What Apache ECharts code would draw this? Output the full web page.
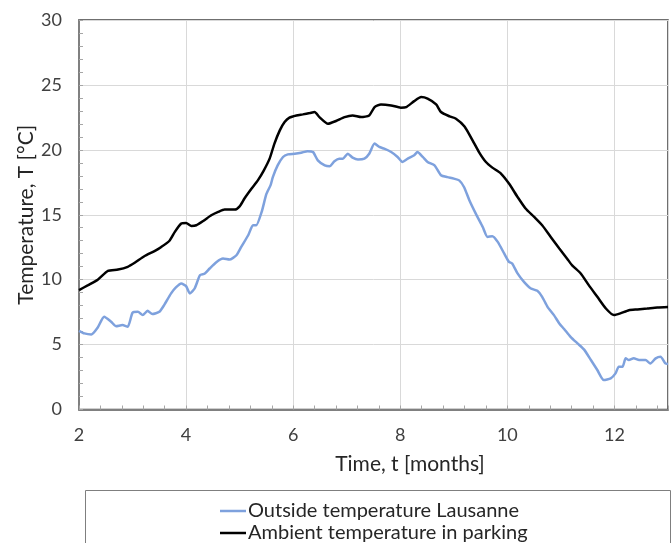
<!DOCTYPE html>
<html>
<head>
<meta charset="utf-8">
<script src="https://cdn.jsdelivr.net/npm/echarts@6/dist/echarts.min.js"></script>
<style>html,body{margin:0;padding:0;background:#fff;}#c{width:672px;height:543px;}</style>
</head>
<body>
<div id="c"></div>
<script>
// ---- data ----
var seriesNames = ['Outside temperature Lausanne', 'Ambient temperature in parking'];
var xTickLabels = ['2', '4', '6', '8', '10', '12'];
var yTickLabels = ['0', '5', '10', '15', '20', '25', '30'];

var blueX = [2.00,2.10,2.23,2.35,2.47,2.60,2.69,2.81,2.91,3.00,3.10,3.19,3.28,3.37,3.50,3.59,3.72,3.81,3.91,4.00,4.07,4.16,4.26,4.35,4.44,4.57,4.69,4.81,4.94,5.03,5.16,5.25,5.31,5.41,5.50,5.58,5.62,5.71,5.81,5.90,6.03,6.15,6.27,6.37,6.46,6.59,6.68,6.77,6.86,6.93,7.02,7.11,7.21,7.33,7.42,7.52,7.61,7.70,7.83,7.95,8.04,8.14,8.26,8.32,8.42,8.51,8.64,8.76,8.88,9.00,9.10,9.19,9.29,9.41,9.54,9.63,9.72,9.82,9.94,10.03,10.09,10.19,10.31,10.44,10.56,10.65,10.75,10.87,10.97,11.06,11.18,11.31,11.43,11.56,11.68,11.80,11.93,12.02,12.08,12.15,12.21,12.27,12.36,12.46,12.58,12.67,12.77,12.86,12.95,13.00];
var blueY = [6.06,5.86,5.78,6.32,7.14,6.76,6.42,6.50,6.37,7.45,7.52,7.27,7.60,7.35,7.52,8.04,8.94,9.40,9.70,9.50,8.94,9.32,10.35,10.47,10.86,11.37,11.63,11.55,11.88,12.52,13.42,14.19,14.19,15.20,16.60,17.30,17.90,18.80,19.45,19.65,19.70,19.78,19.90,19.83,19.19,18.80,18.73,19.12,19.32,19.32,19.70,19.40,19.25,19.32,19.70,20.48,20.22,20.09,19.83,19.45,19.06,19.32,19.58,19.83,19.45,19.06,18.80,18.04,17.90,17.78,17.65,17.14,16.12,15.09,14.06,13.29,13.35,12.91,12.02,11.37,11.24,10.48,9.83,9.32,9.14,8.68,7.91,7.27,6.63,6.20,5.60,5.09,4.63,3.81,3.04,2.27,2.40,2.78,3.29,3.29,3.94,3.81,3.94,3.81,3.81,3.55,3.94,4.06,3.55,3.50];

var blackX = [2.00,2.17,2.35,2.54,2.73,2.91,3.04,3.22,3.41,3.53,3.69,3.79,3.91,4.00,4.10,4.19,4.32,4.47,4.60,4.72,4.91,5.00,5.09,5.22,5.34,5.45,5.56,5.65,5.75,5.84,5.93,6.06,6.18,6.31,6.40,6.49,6.65,6.80,6.96,7.11,7.27,7.42,7.52,7.64,7.83,8.01,8.11,8.26,8.39,8.51,8.67,8.76,8.92,9.04,9.20,9.35,9.47,9.60,9.72,9.88,10.03,10.19,10.34,10.50,10.65,10.81,10.97,11.12,11.21,11.37,11.52,11.68,11.84,11.99,12.11,12.27,12.43,12.61,12.80,13.00];
var blackY = [9.20,9.58,10.00,10.68,10.78,10.99,11.30,11.80,12.20,12.50,13.00,13.68,14.32,14.37,14.14,14.19,14.52,14.96,15.22,15.40,15.40,15.65,16.25,17.00,17.65,18.40,19.32,20.48,21.50,22.14,22.48,22.65,22.73,22.83,22.91,22.52,22.01,22.22,22.52,22.65,22.52,22.65,23.29,23.50,23.42,23.25,23.29,23.75,24.06,23.94,23.50,22.91,22.58,22.40,21.80,20.73,19.83,19.06,18.63,18.17,17.40,16.37,15.48,14.83,14.19,13.29,12.40,11.60,11.10,10.48,9.58,8.68,7.78,7.27,7.40,7.65,7.71,7.78,7.86,7.90];

function pairs(xs, ys) { return xs.map(function (x, i) { return [x, ys[i]]; }); }

var FONT = 'Lato';
var chart = echarts.init(document.getElementById('c'), null, { renderer: 'canvas' });
chart.setOption({
  animation: false,
  backgroundColor: '#ffffff',
  textStyle: { fontFamily: FONT },
  grid: { left: 79, right: 4, top: 20, bottom: 133.5, show: true, borderColor: '#404040', borderWidth: 1.5, backgroundColor: 'transparent' },
  xAxis: {
    type: 'value', min: 2, max: 13, interval: 2,
    name: 'Time, t [months]', nameLocation: 'middle', nameGap: 44,
    nameTextStyle: { fontFamily: FONT, fontSize: 21, color: '#262626', padding: [0, 0, 0, 73] },
    axisLine: { show: true, lineStyle: { color: '#808080', width: 2 } },
    axisTick: { show: true, inside: true, length: 4, lineStyle: { color: '#a6a6a6' } },
    minorTick: { show: true, splitNumber: 5, length: 4, lineStyle: { color: '#a6a6a6' } },
    splitLine: { show: true, lineStyle: { color: '#d9d9d9', width: 1 } },
    axisLabel: {
      showMaxLabel: false, margin: 17, fontFamily: FONT, fontSize: 18, color: '#404040',
      formatter: function (v) { var i = xTickLabels.indexOf(String(v)); return i >= 0 ? xTickLabels[i] : ''; }
    }
  },
  yAxis: {
    type: 'value', min: 0, max: 30, interval: 5,
    name: 'Temperature, T [°C]', nameLocation: 'middle', nameGap: 42, nameRotate: 90, nameMoveOverlap: false,
    nameTextStyle: { fontFamily: FONT, fontSize: 21, color: '#262626' },
    axisLine: { show: true, lineStyle: { color: '#808080', width: 2 } },
    axisTick: { show: true, inside: true, length: 4, lineStyle: { color: '#a6a6a6' } },
    minorTick: { show: true, splitNumber: 5, length: 4, lineStyle: { color: '#a6a6a6' } },
    splitLine: { show: true, lineStyle: { color: '#d9d9d9', width: 1 } },
    axisLabel: {
      margin: 17, fontFamily: FONT, fontSize: 18, color: '#404040',
      formatter: function (v) { var i = yTickLabels.indexOf(String(v)); return i >= 0 ? yTickLabels[i] : ''; }
    }
  },
  legend: {
    orient: 'vertical', left: 220, top: 501, height: 120, itemGap: 2, padding: 0,
    icon: 'rect', itemWidth: 26, itemHeight: 2.5,
    textStyle: { fontFamily: FONT, fontSize: 20, color: '#262626', padding: [0, 0, 0, -3] },
    data: seriesNames
  },
  graphic: [{
    type: 'rect', left: 83, top: 488, silent: true, z: -1,
    shape: { width: 585, height: 70 },
    style: { fill: 'none', stroke: '#7f7f7f', lineWidth: 1 }
  }],
  series: [
    { name: seriesNames[0], type: 'line', data: pairs(blueX, blueY), symbol: 'none', smooth: 0.2,
      lineStyle: { color: '#7ea1dd', width: 2.5 }, itemStyle: { color: '#7ea1dd' }, z: 3 },
    { name: seriesNames[1], type: 'line', data: pairs(blackX, blackY), symbol: 'none', smooth: 0.2,
      lineStyle: { color: '#000000', width: 2.5 }, itemStyle: { color: '#000000' }, z: 4 }
  ]
});
</script>
</body>
</html>
